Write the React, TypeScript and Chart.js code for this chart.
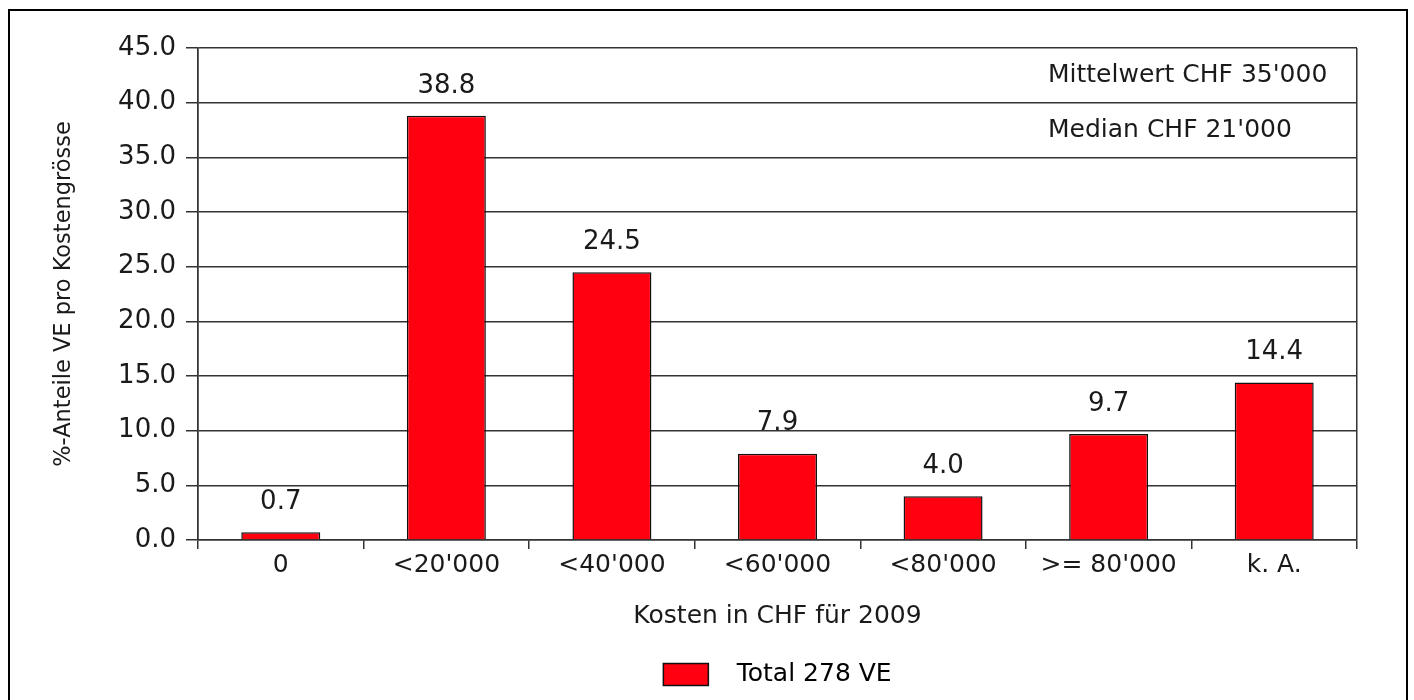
import React, { useEffect, useRef } from "react";
import { Chart, registerables } from "chart.js";

Chart.register(...registerables);

const categories = ["0", "<20'000", "<40'000", "<60'000", "<80'000", ">= 80'000", "k. A."];
const values = [0.7, 38.8, 24.5, 7.9, 4.0, 9.7, 14.4];
const seriesLabel = "Total 278 VE";
const yMin = 0;
const yMax = 45;
const yStep = 5;
const yTitle = "%-Anteile VE pro Kostengrösse";
const xTitle = "Kosten in CHF für 2009";
const noteTexts = ["Mittelwert CHF 35'000", "Median CHF 21'000"];
const noteValues = [42.5, 37.5];

const FONT = "'DejaVu Sans', sans-serif";
const TEXT = "#1a1a1a";
const LINE = "#333333";
const RED = "#ff0010";

const labelsPlugin = {
  id: "valueLabels",
  afterDatasetsDraw(chart: any) {
    const ctx = chart.ctx;
    const meta = chart.getDatasetMeta(0);
    ctx.save();
    ctx.font = `26px ${FONT}`;
    ctx.fillStyle = TEXT;
    ctx.textAlign = "center";
    ctx.textBaseline = "middle";
    meta.data.forEach((bar: any, i: number) => {
      ctx.fillText(values[i].toFixed(1), bar.x, bar.y - 30);
    });
    const yScale = chart.scales.y;
    ctx.font = `25px ${FONT}`;
    ctx.textAlign = "left";
    noteTexts.forEach((t, i) => {
      ctx.fillText(t, chart.chartArea.right - 309, yScale.getPixelForValue(noteValues[i]));
    });
    ctx.restore();
  },
};

export default function App() {
  const ref = useRef<HTMLCanvasElement | null>(null);
  useEffect(() => {
    if (!ref.current) return;
    const chart = new Chart(ref.current, {
      type: "bar",
      data: {
        labels: categories,
        datasets: [
          {
            label: seriesLabel,
            data: values,
            backgroundColor: RED,
            borderColor: "#111",
            borderWidth: 1.5,
            barPercentage: 0.477,
            categoryPercentage: 1,
          },
        ],
      },
      options: {
        animation: false,
        responsive: false,
        maintainAspectRatio: false,
        layout: { padding: { left: 0, right: 57, top: 48, bottom: 3 } },
        plugins: {
          tooltip: { enabled: false },
          legend: {
            position: "bottom",
            fullSize: false,
            labels: {
              boxWidth: 45,
              boxHeight: 22,
              color: TEXT,
              font: { family: FONT, size: 25 },
              generateLabels: () => [
                {
                  text: "  " + seriesLabel,
                  fillStyle: RED,
                  strokeStyle: "#111",
                  lineWidth: 1.5,
                  hidden: false,
                  datasetIndex: 0,
                },
              ],
            },
          },
        },
        scales: {
          x: {
            afterFit: (s: any) => {
              s.height = 112;
            },
            grid: {
              offset: true,
              color: (c: any) => (c.type !== "tick" || c.index === 0 ? LINE : "rgba(0,0,0,0)"),
              tickColor: LINE,
              lineWidth: 1.5,
              tickLength: 9,
            },
            border: { display: true, color: LINE, width: 1.5 },
            ticks: { color: TEXT, font: { family: FONT, size: 25 }, padding: 1 },
            title: {
              display: true,
              text: xTitle,
              color: TEXT,
              font: { family: FONT, size: 25 },
              padding: { top: 0, bottom: 21 },
            },
          },
          y: {
            min: yMin,
            max: yMax,
            afterFit: (s: any) => {
              s.width = 198;
            },
            grid: { color: LINE, lineWidth: 1.5, tickLength: 12, tickColor: LINE },
            border: { display: true, color: LINE, width: 1.5 },
            ticks: {
              stepSize: yStep,
              color: TEXT,
              font: { family: FONT, size: 26 },
              padding: 10,
              callback: (v: any) => Number(v).toFixed(1),
            },
            title: {
              display: true,
              text: yTitle,
              color: TEXT,
              font: { family: FONT, size: 22.5 },
              padding: { top: 51, bottom: 0 },
            },
          },
        },
      },
      plugins: [labelsPlugin],
    });
    return () => chart.destroy();
  }, []);

  return (
    <div style={{ position: "fixed", left: 0, top: 0, width: 1414, height: 700, overflow: "hidden", background: "#fff" }}>
      <canvas ref={ref} width={1414} height={700} style={{ position: "absolute", left: 0, top: 0 }} />
      <div
        style={{
          position: "absolute",
          left: 8,
          top: 9,
          width: 1396,
          height: 740,
          border: "2px solid #000",
          pointerEvents: "none",
        }}
      />
    </div>
  );
}
